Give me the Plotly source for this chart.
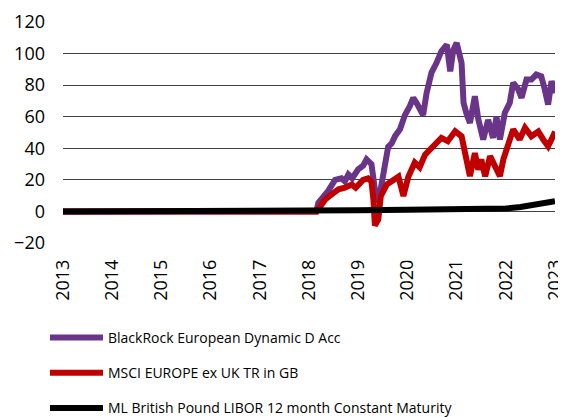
import plotly.graph_objects as go
from datetime import datetime

# ---- data (decimal year, value in %) ----
fund_years = [2013.0, 2018.15, 2018.19, 2018.3, 2018.39, 2018.53, 2018.66, 2018.73, 2018.8, 2018.88,
              2019.0, 2019.1, 2019.17, 2019.27, 2019.34, 2019.41, 2019.48, 2019.55, 2019.61, 2019.68,
              2019.75, 2019.85, 2019.95, 2020.05, 2020.12, 2020.2, 2020.32, 2020.39, 2020.49, 2020.59,
              2020.69, 2020.8, 2020.87, 2020.93, 2021.0, 2021.1, 2021.14, 2021.2, 2021.27, 2021.37,
              2021.44, 2021.54, 2021.64, 2021.74, 2021.81, 2021.88, 2021.98, 2022.08, 2022.15, 2022.25,
              2022.32, 2022.42, 2022.52, 2022.62, 2022.72, 2022.79, 2022.86, 2022.93, 2023.0]
fund_values = [0, 0, 5.5, 9, 13, 20, 21, 19, 23.4, 21,
               26.6, 29, 33, 30, 14, 5.6, 20, 33, 41, 43,
               47.7, 52, 61, 66.7, 72, 68, 61, 75, 88, 94,
               101.5, 105.7, 88.8, 102, 106.8, 94, 68.8, 62, 56, 73,
               58.5, 45.6, 58, 46.6, 60, 45.6, 62.5, 68.8, 81.5, 77.5,
               72, 83.5, 83.5, 86.7, 85.6, 77.5, 67.7, 82.5, 75]

index_years = [2013.0, 2018.15, 2018.19, 2018.33, 2018.46, 2018.6, 2018.73, 2018.87, 2018.95, 2019.1,
               2019.2, 2019.27, 2019.31, 2019.34, 2019.41, 2019.46, 2019.58, 2019.72, 2019.82, 2019.92,
               2020.02, 2020.15, 2020.25, 2020.36, 2020.53, 2020.69, 2020.82, 2020.97, 2021.1, 2021.17,
               2021.27, 2021.37, 2021.44, 2021.5, 2021.58, 2021.68, 2021.78, 2021.88, 2021.95, 2022.08,
               2022.15, 2022.28, 2022.39, 2022.52, 2022.66, 2022.76, 2022.86, 2022.96, 2023.0]
index_values = [0, 0, 1.5, 7.6, 10.8, 14, 15, 17, 15, 20,
                21, 19, 7.6, -9, -5, 9.7, 17, 20, 22, 9.7,
                22, 31, 28, 36, 41, 46.6, 44.5, 50.8, 47.6, 37,
                22.3, 37, 26.5, 33, 22.3, 35, 28.7, 22.3, 33, 45.6,
                52, 45.6, 53, 47.6, 50.6, 45.6, 41.3, 47.6, 50.6]

libor_years = [2013.0, 2018.0, 2019.0, 2020.0, 2021.0, 2021.5, 2022.0, 2022.3, 2022.55, 2022.8, 2023.0]
libor_values = [0, 0, 0.7, 1.1, 1.4, 1.5, 1.8, 2.8, 3.8, 5.0, 6.5]

series_names = ["BlackRock European Dynamic D Acc",
                "MSCI EUROPE ex UK TR in GB",
                "ML British Pound LIBOR 12 month Constant Maturity"]
series_colors = ["#6A3589", "#C00000", "#000000"]

tick_years = list(range(2013, 2024))
y_ticks = [-20, 0, 20, 40, 60, 80, 100, 120]


def to_date(y):
    year = int(y)
    start = datetime(year, 1, 1)
    end = datetime(year + 1, 1, 1)
    return start + (end - start) * (y - year)


FONT = "Open Sans"
W, H = 558, 409  # page body adds an 8px margin inside the 566x417 window

fig = go.Figure()
for yrs, vals, name, col in zip([fund_years, index_years, libor_years],
                                [fund_values, index_values, libor_values],
                                series_names, series_colors):
    fig.add_trace(go.Scatter(x=[to_date(v) for v in yrs], y=vals, mode="lines", name=name,
                             legendgroup=name,
                             line=dict(color=col, width=6)))

fig.update_layout(
    width=W, height=H,
    margin=dict(l=55, r=11, t=14, b=174, autoexpand=False),
    paper_bgcolor="white", plot_bgcolor="white",
    font=dict(family=FONT, color="#000000"),
    showlegend=True,
    legend=dict(xref="container", yref="container", x=37/W, y=1-314/H,
                xanchor="left", yanchor="top",
                font=dict(size=14, family=FONT, color="#000000"),
                tracegroupgap=14, itemwidth=53, bgcolor="rgba(0,0,0,0)"),
    xaxis=dict(type="date",
               range=[to_date(2013.0), to_date(2023.0)],
               tickmode="array",
               tickvals=[to_date(y) for y in tick_years],
               ticktext=[str(y) for y in tick_years],
               tickangle=-90, showgrid=False, zeroline=False, showline=False,
               ticks="", ticklabelstandoff=12,
               tickfont=dict(size=18, family=FONT, color="#000000")),
    yaxis=dict(range=[-20, 120], tickmode="array", tickvals=y_ticks,
               showgrid=True, gridcolor="#404040", gridwidth=1,
               zeroline=False, showline=False, ticks="", ticklabelstandoff=17,
               tickfont=dict(size=18, family=FONT, color="#000000")),
)

fig.write_html("out.html")
